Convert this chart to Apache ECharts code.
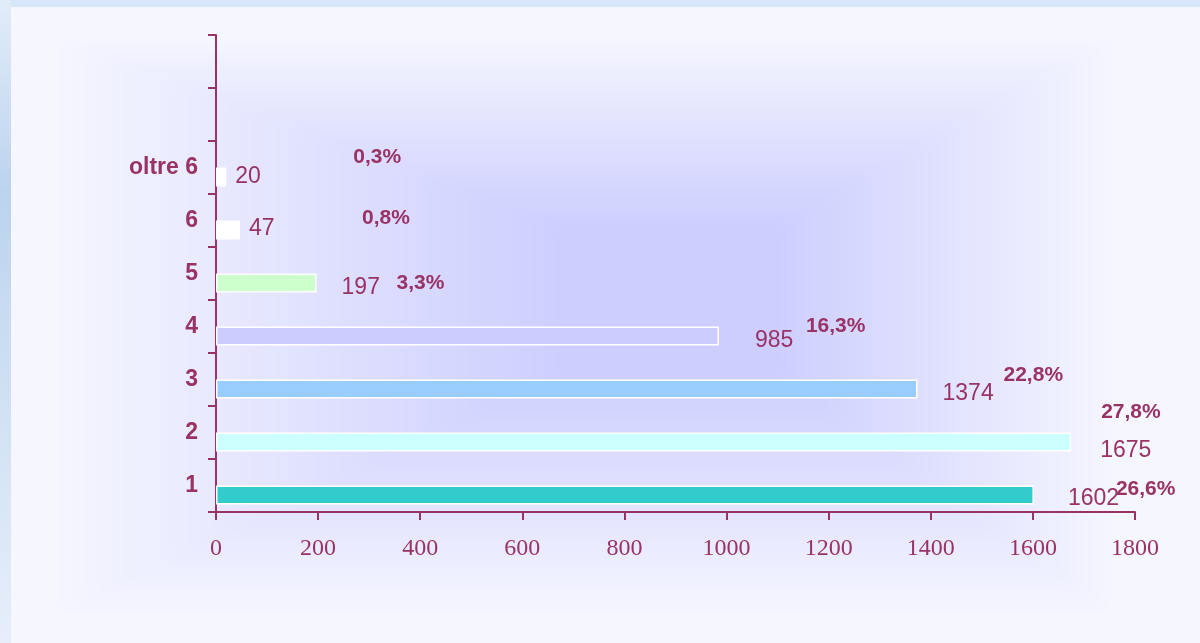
<!DOCTYPE html>
<html>
<head>
<meta charset="utf-8">
<style>
  html, body { margin: 0; padding: 0; background: #f5f6fe; }
  #chart { width: 1200px; height: 643px; }
</style>
<script src="https://cdn.jsdelivr.net/npm/echarts@6/dist/echarts.min.js"></script>
</head>
<body>
<div id="chart"></div>
<script>
  var categories = ['1', '2', '3', '4', '5', '6', 'oltre 6', '', ''];
  var counts = [1602, 1675, 1374, 985, 197, 47, 20];
  var percents = ['26,6%', '27,8%', '22,8%', '16,3%', '3,3%', '0,8%', '0,3%'];
  var xMin = 0;
  var xMax = 1800;
  var xStep = 200;

  var barColors = ['#33cccc', '#ccffff', '#99ccff', '#ccccff', '#ccffcc', '#ffffff', '#ffffff'];
  // label nudges (px) taken off the slide, they were hand placed
  var countOffsets = [[34, 4], [29, 9], [25, 5], [36, 5], [25, 5], [9, -1], [9, 0]];
  var pctOffsets = [[82, 13], [30, -11], [86, 5], [87, 9], [80, 19], [122, 7], [127, -1]];

  var MAROON = '#993366';

  // soft box backdrop, drawn as stacked translucent rects
  function backdrop() {
    var items = [
      { type: 'rect', shape: { x: 0, y: 0, width: 1200, height: 643 }, style: { fill: '#f5f6fe' }, z: -10 },
      { type: 'rect', shape: { x: 0, y: 0, width: 1200, height: 7 }, style: { fill: '#d8e6fa' }, z: -9 },
      {
        type: 'rect', shape: { x: 0, y: 0, width: 11, height: 643 }, z: -9,
        style: {
          fill: new echarts.graphic.LinearGradient(0, 0, 0, 1, [
            { offset: 0, color: '#e2ecf9' },
            { offset: 0.3, color: '#bcd3ee' },
            { offset: 0.6, color: '#cfe0f3' },
            { offset: 1, color: '#e6eefa' }
          ])
        }
      }
    ];
    var outer = { x1: 60, y1: 40, x2: 1110, y2: 612 };
    var inner = { x1: 570, y1: 230, x2: 770, y2: 370 };
    var n = 40;
    for (var i = 0; i < n; i++) {
      var t = i / n;
      var x1 = outer.x1 + (inner.x1 - outer.x1) * t;
      var y1 = outer.y1 + (inner.y1 - outer.y1) * t;
      var x2 = outer.x2 + (inner.x2 - outer.x2) * t;
      var y2 = outer.y2 + (inner.y2 - outer.y2) * t;
      items.push({
        type: 'rect',
        shape: { x: x1, y: y1, width: x2 - x1, height: y2 - y1, r: 12 },
        style: { fill: 'rgba(160, 160, 255, 0.016)' },
        z: -8
      });
    }
    return items;
  }

  var chart = echarts.init(document.getElementById('chart'));

  var option = {
    animation: false,
    backgroundColor: 'transparent',
    graphic: { elements: backdrop() },
    grid: { left: 216, right: 65, top: 35, bottom: 131, containLabel: false },
    xAxis: {
      type: 'value',
      min: xMin,
      max: xMax,
      interval: xStep,
      axisLine: { show: true, lineStyle: { color: MAROON, width: 2 } },
      axisTick: { show: true, length: 8, lineStyle: { color: MAROON, width: 2 } },
      splitLine: { show: false },
      axisLabel: {
        color: MAROON,
        fontFamily: '"Liberation Serif", "DejaVu Serif", serif',
        fontSize: 24,
        margin: 25,
        formatter: function (v) { return String(v); }
      }
    },
    yAxis: {
      type: 'category',
      data: categories,
      axisLine: { show: true, lineStyle: { color: MAROON, width: 2 } },
      axisTick: { show: true, length: 8, lineStyle: { color: MAROON, width: 2 } },
      axisLabel: {
        color: MAROON,
        fontFamily: '"Liberation Sans", Arial, sans-serif',
        fontWeight: 'bold',
        fontSize: 23,
        margin: 18
      }
    },
    series: [
      {
        name: 'percentuale',
        type: 'bar',
        barWidth: 19,
        barGap: '0%',
        itemStyle: { color: 'transparent' },
        data: counts.map(function (v, i) {
          return {
            value: v,
            label: {
              show: true,
              position: 'right',
              distance: 0,
              offset: pctOffsets[i],
              formatter: percents[i],
              color: MAROON,
              fontFamily: '"Liberation Sans", Arial, sans-serif',
              fontWeight: 'bold',
              fontSize: 21
            }
          };
        })
      },
      {
        name: 'numero',
        type: 'bar',
        barWidth: 19,
        barGap: '0%',
        data: counts.map(function (v, i) {
          return {
            value: v,
            itemStyle: { color: barColors[i], borderColor: '#ffffff', borderWidth: 1.5 },
            label: {
              show: true,
              position: 'right',
              distance: 0,
              offset: countOffsets[i],
              color: MAROON,
              fontFamily: '"Liberation Sans", Arial, sans-serif',
              fontSize: 23
            }
          };
        })
      }
    ]
  };

  chart.setOption(option);
</script>
</body>
</html>
